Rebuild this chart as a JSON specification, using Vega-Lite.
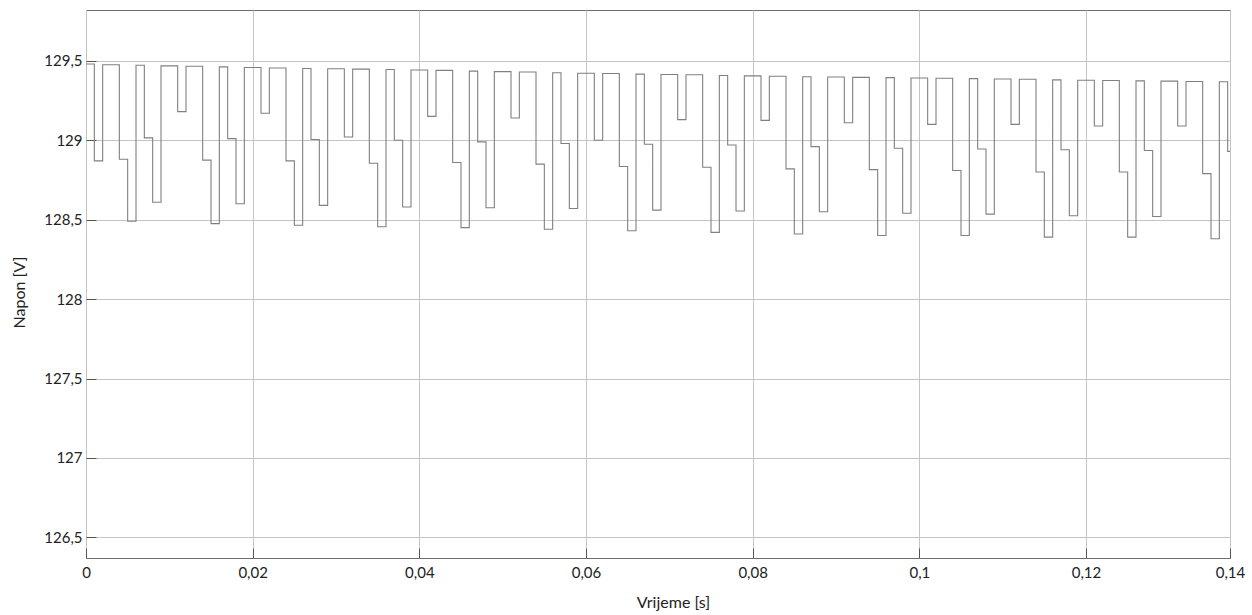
{
  "$schema": "https://vega.github.io/schema/vega-lite/v6.json",
  "width": 1144,
  "height": 548,
  "autosize": {"type": "none"},
  "padding": {"left": 86, "top": 10, "right": 22, "bottom": 57},
  "background": "white",
  "config": {
    "view": {"stroke": "#6e6e6e", "strokeWidth": 1},
    "font": "Lato"
  },
  "data": {
    "values": [
      {"t":0.000,"v":129.48},{"t":0.001,"v":128.87},{"t":0.002,"v":129.475},{"t":0.003,"v":129.475},{"t":0.004,"v":128.88},
      {"t":0.005,"v":128.49},{"t":0.006,"v":129.472},{"t":0.007,"v":129.015},{"t":0.008,"v":128.61},{"t":0.009,"v":129.468},
      {"t":0.010,"v":129.468},{"t":0.011,"v":129.18},{"t":0.012,"v":129.466},{"t":0.013,"v":129.466},{"t":0.014,"v":128.875},
      {"t":0.015,"v":128.475},{"t":0.016,"v":129.462},{"t":0.017,"v":129.01},{"t":0.018,"v":128.60},{"t":0.019,"v":129.458},
      {"t":0.020,"v":129.458},{"t":0.021,"v":129.17},{"t":0.022,"v":129.455},{"t":0.023,"v":129.455},{"t":0.024,"v":128.87},
      {"t":0.025,"v":128.465},{"t":0.026,"v":129.452},{"t":0.027,"v":129.005},{"t":0.028,"v":128.59},{"t":0.029,"v":129.45},
      {"t":0.030,"v":129.45},{"t":0.031,"v":129.02},{"t":0.032,"v":129.448},{"t":0.033,"v":129.448},{"t":0.034,"v":128.855},
      {"t":0.035,"v":128.455},{"t":0.036,"v":129.445},{"t":0.037,"v":129.0},{"t":0.038,"v":128.58},{"t":0.039,"v":129.442},
      {"t":0.040,"v":129.442},{"t":0.041,"v":129.15},{"t":0.042,"v":129.44},{"t":0.043,"v":129.44},{"t":0.044,"v":128.86},
      {"t":0.045,"v":128.45},{"t":0.046,"v":129.435},{"t":0.047,"v":128.99},{"t":0.048,"v":128.575},{"t":0.049,"v":129.432},
      {"t":0.050,"v":129.432},{"t":0.051,"v":129.14},{"t":0.052,"v":129.43},{"t":0.053,"v":129.43},{"t":0.054,"v":128.85},
      {"t":0.055,"v":128.44},{"t":0.056,"v":129.425},{"t":0.057,"v":128.98},{"t":0.058,"v":128.57},{"t":0.059,"v":129.422},
      {"t":0.060,"v":129.422},{"t":0.061,"v":129.0},{"t":0.062,"v":129.42},{"t":0.063,"v":129.42},{"t":0.064,"v":128.835},
      {"t":0.065,"v":128.43},{"t":0.066,"v":129.416},{"t":0.067,"v":128.975},{"t":0.068,"v":128.56},{"t":0.069,"v":129.414},
      {"t":0.070,"v":129.414},{"t":0.071,"v":129.13},{"t":0.072,"v":129.412},{"t":0.073,"v":129.412},{"t":0.074,"v":128.83},
      {"t":0.075,"v":128.42},{"t":0.076,"v":129.408},{"t":0.077,"v":128.97},{"t":0.078,"v":128.555},{"t":0.079,"v":129.405},
      {"t":0.080,"v":129.405},{"t":0.081,"v":129.125},{"t":0.082,"v":129.403},{"t":0.083,"v":129.403},{"t":0.084,"v":128.82},
      {"t":0.085,"v":128.41},{"t":0.086,"v":129.40},{"t":0.087,"v":128.96},{"t":0.088,"v":128.55},{"t":0.089,"v":129.398},
      {"t":0.090,"v":129.398},{"t":0.091,"v":129.11},{"t":0.092,"v":129.396},{"t":0.093,"v":129.396},{"t":0.094,"v":128.815},
      {"t":0.095,"v":128.40},{"t":0.096,"v":129.394},{"t":0.097,"v":128.95},{"t":0.098,"v":128.54},{"t":0.099,"v":129.392},
      {"t":0.100,"v":129.392},{"t":0.101,"v":129.10},{"t":0.102,"v":129.39},{"t":0.103,"v":129.39},{"t":0.104,"v":128.81},
      {"t":0.105,"v":128.40},{"t":0.106,"v":129.388},{"t":0.107,"v":128.945},{"t":0.108,"v":128.535},{"t":0.109,"v":129.386},
      {"t":0.110,"v":129.386},{"t":0.111,"v":129.10},{"t":0.112,"v":129.384},{"t":0.113,"v":129.384},{"t":0.114,"v":128.80},
      {"t":0.115,"v":128.39},{"t":0.116,"v":129.38},{"t":0.117,"v":128.94},{"t":0.118,"v":128.525},{"t":0.119,"v":129.378},
      {"t":0.120,"v":129.378},{"t":0.121,"v":129.09},{"t":0.122,"v":129.376},{"t":0.123,"v":129.376},{"t":0.124,"v":128.80},
      {"t":0.125,"v":128.39},{"t":0.126,"v":129.374},{"t":0.127,"v":128.935},{"t":0.128,"v":128.52},{"t":0.129,"v":129.372},
      {"t":0.130,"v":129.372},{"t":0.131,"v":129.09},{"t":0.132,"v":129.37},{"t":0.133,"v":129.37},{"t":0.134,"v":128.79},
      {"t":0.135,"v":128.38},{"t":0.136,"v":129.368},{"t":0.137,"v":128.93},{"t":0.1373,"v":128.93}
    ]
  },
  "mark": {"type": "line", "interpolate": "step-after", "color": "#808080", "strokeWidth": 1.1, "clip": true},
  "encoding": {
    "x": {
      "field": "t",
      "type": "quantitative",
      "scale": {"domain": [0, 0.13728], "nice": false, "zero": false},
      "axis": {
        "title": "Vrijeme [s]",
        "values": [0, 0.02, 0.04, 0.06, 0.08, 0.1, 0.12, 0.13728],
        "labelExpr": "datum.value > 0.13 ? '0,14' : replace(toString(datum.value), '.', ',')",
        "grid": true,
        "gridColor": "#c4c4c4",
        "gridWidth": 1,
        "domain": false,
        "ticks": true,
        "tickSize": -10,
        "tickColor": "#555555",
        "labelPadding": 17,
        "labelFont": "Lato",
        "labelFontSize": 15,
        "labelColor": "#222222",
        "labelBaseline": "top",
        "labelFlush": false,
        "labelOverlap": false,
        "titleFont": "Lato",
        "titleFontSize": 16,
        "titleFontWeight": "normal",
        "titleColor": "#222222",
        "titleX": 587,
        "titleY": 44,
        "titleBaseline": "middle"
      }
    },
    "y": {
      "field": "v",
      "type": "quantitative",
      "scale": {"domain": [126.37, 129.82], "nice": false, "zero": false},
      "axis": {
        "title": "Napon [V]",
        "values": [126.5, 127, 127.5, 128, 128.5, 129, 129.5],
        "labelExpr": "replace(toString(datum.value), '.', ',')",
        "grid": true,
        "gridColor": "#c4c4c4",
        "gridWidth": 1,
        "domain": false,
        "ticks": true,
        "tickSize": -10,
        "tickColor": "#555555",
        "labelPadding": 14,
        "labelFont": "Lato",
        "labelFontSize": 15,
        "labelColor": "#222222",
        "labelFlush": false,
        "labelOverlap": false,
        "titleFont": "Lato",
        "titleFontSize": 16,
        "titleFontWeight": "normal",
        "titleColor": "#222222",
        "titleX": -67,
        "titleY": 282,
        "titleAngle": -90,
        "titleBaseline": "middle",
        "titleAlign": "center"
      }
    }
  }
}
